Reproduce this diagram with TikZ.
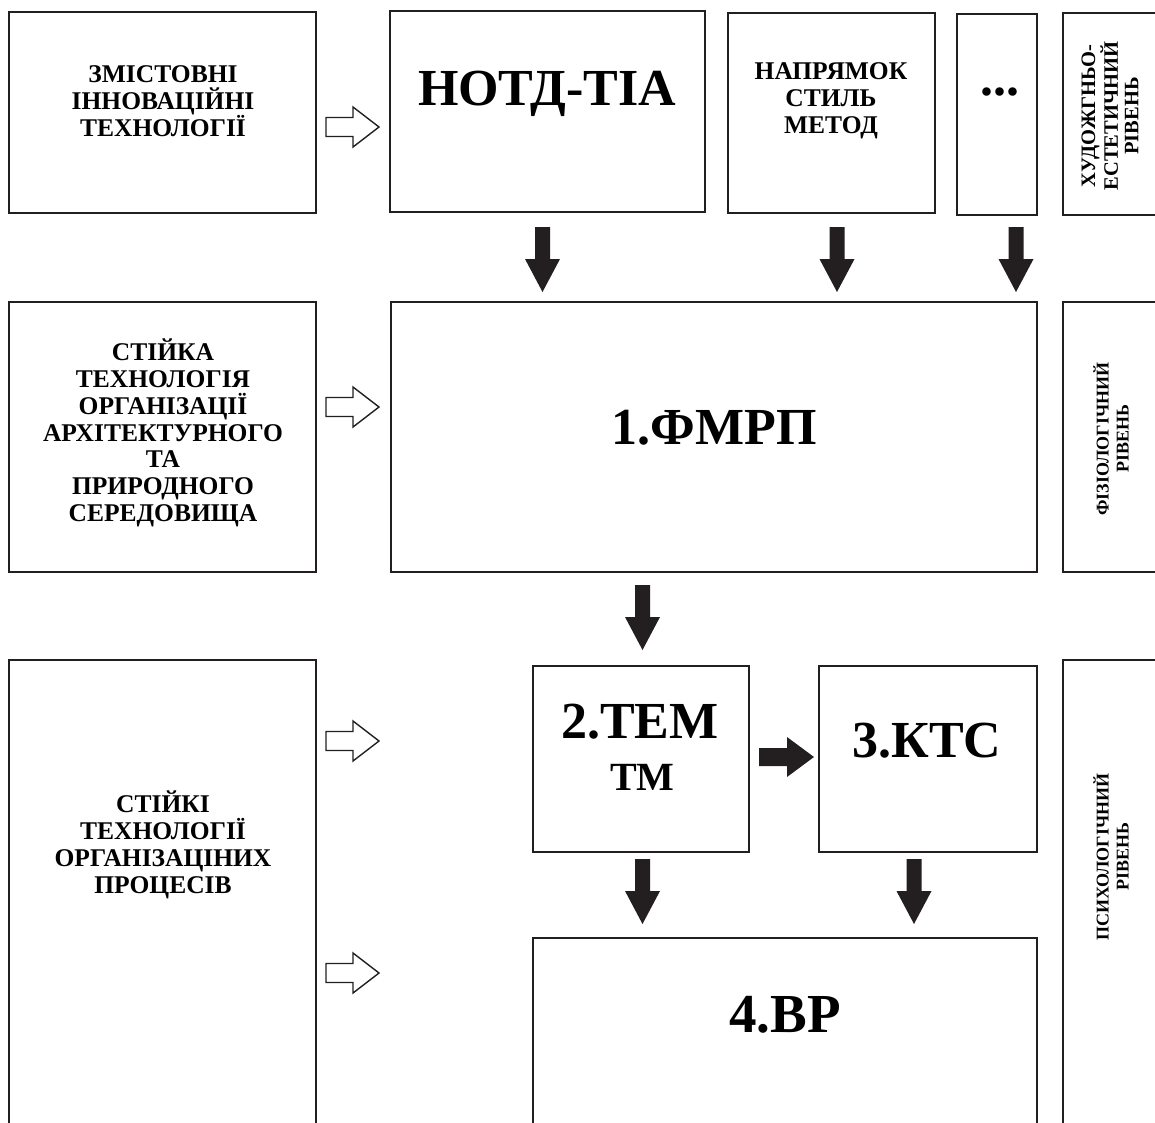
\documentclass[tikz,border=0pt]{standalone}
\usepackage{fontspec}
\setmainfont{Liberation Serif}
\definecolor{ink}{HTML}{231F20}
\tikzset{
  box/.style={draw=ink, line width=1.6pt, inner sep=0pt, outer sep=0pt, anchor=north west},
  smalltxt/.style={font=\bfseries\fontsize{25.5}{26.8}\selectfont, align=center, inner sep=0pt},
  bigtxt/.style={font=\bfseries\fontsize{52}{60}\selectfont, inner sep=0pt},
  midtxt/.style={font=\bfseries\fontsize{40}{46}\selectfont, inner sep=0pt},
  rottxt/.style={font=\bfseries\fontsize{18}{20}\selectfont, align=center, rotate=90, inner sep=0pt},
  hollowarr/.style={draw=ink, line width=1.4pt, fill=white, line join=miter},
  solidarr/.style={fill=ink, draw=none}
}
\newcommand\mkbox[5]{\node[box, minimum width={#4-#2}, minimum height={#5-#3}] (#1) at (#2,#3) {};}
\newcommand\dnarr[3]{\fill[ink] (#1-7.5,#2) -- (#1+7.5,#2) -- (#1+7.5,#3-33) -- (#1+17.5,#3-33) -- (#1,#3) -- (#1-17.5,#3-33) -- (#1-7.5,#3-33) -- cycle;}
\newcommand\hollarr[1]{\draw[hollowarr] (326,#1-9.5) -- (353,#1-9.5) -- (353,#1-20) -- (379,#1) -- (353,#1+20) -- (353,#1+9.5) -- (326,#1+9.5) -- cycle;}
\begin{document}
\begin{tikzpicture}[x=1pt,y=-1pt]
\useasboundingbox (0,0) rectangle (1155,1122);
\clip (0,0) rectangle (1155,1122);
% row 1
\mkbox{b1}{9}{12}{316}{213}
\mkbox{nt}{390}{11}{705}{212}
\mkbox{np}{728}{13}{935}{213}
\mkbox{dt}{957}{14}{1037}{215}
\mkbox{r1}{1063}{13}{1175}{215}
% row 2
\mkbox{b2}{9}{302}{316}{572}
\mkbox{fm}{391}{302}{1037}{572}
\mkbox{r2}{1063}{302}{1175}{572}
% row 3
\mkbox{b3}{9}{660}{316}{1140}
\mkbox{tem}{533}{666}{749}{852}
\mkbox{ktc}{819}{666}{1037}{852}
\mkbox{vr}{533}{938}{1037}{1140}
\mkbox{r3}{1063}{660}{1175}{1140}
% texts
\node[smalltxt] (t1) at (163,101) {ЗМІСТОВНІ\\ІННОВАЦІЙНІ\\ТЕХНОЛОГІЇ};
\node[bigtxt] (t2) at (547,94) {НОТД-ТІА};
\node[smalltxt] (t3) at (831,101) {НАПРЯМОК\\СТИЛЬ\\МЕТОД};
\node[font=\bfseries\fontsize{52}{60}\selectfont, inner sep=0pt] (t4) at (1000,92) {...};
\node[rottxt, font=\bfseries\fontsize{20.5}{20.5}\selectfont] (t5) at (1110,116) {ХУДОЖГНЬО-\\ЕСТЕТИЧНИЙ\\РІВЕНЬ};
\node[smalltxt] (t6) at (163,433) {СТІЙКА\\ТЕХНОЛОГІЯ\\ОРГАНІЗАЦІЇ\\АРХІТЕКТУРНОГО\\ТА\\ПРИРОДНОГО\\СЕРЕДОВИЩА};
\node[bigtxt] (t7) at (714,428) {1.ФМРП};
\node[rottxt] (t8) at (1111,439) {ФІЗІОЛОГІЧНИЙ\\РІВЕНЬ};
\node[smalltxt] (t9) at (163,845) {СТІЙКІ\\ТЕХНОЛОГІЇ\\ОРГАНІЗАЦІНИХ\\ПРОЦЕСІВ};
\node[bigtxt] (t10) at (640,722) {2.ТЕМ};
\node[midtxt] (t11) at (642,777) {ТМ};
\node[bigtxt] (t12) at (927,741) {3.КТС};
\node[bigtxt, font=\bfseries\fontsize{55}{60}\selectfont] (t13) at (785,1015) {4.ВР};
\node[rottxt] (t14) at (1111,857) {ПСИХОЛОГІЧНИЙ\\РІВЕНЬ};
% hollow arrows
\hollarr{127}
\hollarr{407}
\hollarr{741}
\hollarr{973}
% solid arrows
\dnarr{542.5}{227}{292}
\dnarr{837}{227}{292}
\dnarr{1016}{227}{292}
\dnarr{642.5}{585}{650}
\dnarr{642.5}{859}{924}
\dnarr{914}{859}{924}
\fill[ink] (759,748) -- (787,748) -- (787,737) -- (814,757) -- (787,777) -- (787,766) -- (759,766) -- cycle;
\end{tikzpicture}
\end{document}
